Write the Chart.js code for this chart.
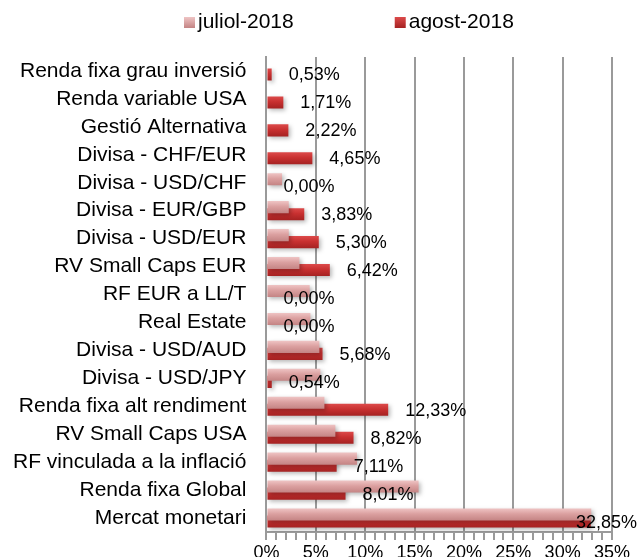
<!DOCTYPE html>
<html>
<head>
<meta charset="utf-8">
<script src="https://cdn.jsdelivr.net/npm/chart.js@4.4.1/dist/chart.umd.min.js"></script>
<style>
  body { margin: 0; background: #fff; }
  #wrap { width: 637px; height: 557px; }
</style>
</head>
<body>
<div id="wrap"><canvas id="fundsChart" width="637" height="557"></canvas></div>
<script>
// Chart data
const categories = [
  "Renda fixa grau inversió",
  "Renda variable USA",
  "Gestió Alternativa",
  "Divisa - CHF/EUR",
  "Divisa - USD/CHF",
  "Divisa - EUR/GBP",
  "Divisa - USD/EUR",
  "RV Small Caps EUR",
  "RF EUR a LL/T",
  "Real Estate",
  "Divisa - USD/AUD",
  "Divisa - USD/JPY",
  "Renda fixa alt rendiment",
  "RV Small Caps USA",
  "RF vinculada a la inflació",
  "Renda fixa Global",
  "Mercat monetari"
];
const seriesNames = ["juliol-2018", "agost-2018"];
const juliol = [0, 0, 0, 0, 1.58, 2.26, 2.26, 3.34, 4.38, 4.45, 5.36, 5.46, 5.87, 6.98, 9.17, 15.41, 32.9];
const agost = [0.53, 1.71, 2.22, 4.65, 0, 3.83, 5.30, 6.42, 0, 0, 5.68, 0.54, 12.33, 8.82, 7.11, 8.01, 32.85];
const xTicks = [0, 5, 10, 15, 20, 25, 30, 35];

const FONT = "'Liberation Sans', Arial, sans-serif";
const GRID = "#9a9a9a";

const julStops = ["#efc4c4", "#dba0a0", "#c48484"];
const agoStops = ["#dc4a4a", "#c83030", "#a52222"];

// vertical gradient over one bar
function barGradient(ctx, stops, shift) {
  const chart = ctx.chart;
  const yScale = chart.scales.y;
  if (!yScale || ctx.dataIndex === undefined) return stops[1];
  const y = yScale.getPixelForValue(ctx.dataIndex);
  const pitch = yScale.height / categories.length;
  if (!isFinite(y) || !isFinite(pitch) || pitch <= 0) return stops[1];
  const slot = pitch * 0.504 / 2;
  const c = y + shift * slot / 2;
  const half = slot * 1.714 / 2;
  const g = chart.ctx.createLinearGradient(0, c - half, 0, c + half);
  g.addColorStop(0, stops[0]);
  g.addColorStop(0.45, stops[1]);
  g.addColorStop(1, stops[2]);
  return g;
}

// soft shadow under the bars
const shadowPlugin = {
  id: "barShadow",
  beforeDatasetsDraw(chart) {
    const c = chart.ctx;
    c.save();
    c.shadowColor = "rgba(0,0,0,0.28)";
    c.shadowBlur = 4;
    c.shadowOffsetX = 2;
    c.shadowOffsetY = 2;
  },
  afterDatasetsDraw(chart) {
    chart.ctx.restore();
  }
};

// agost values next to the bars
const labelPlugin = {
  id: "barLabels",
  afterDatasetsDraw(chart) {
    const c = chart.ctx;
    const meta = chart.getDatasetMeta(1);
    const xScale = chart.scales.x;
    c.save();
    c.font = "18px " + FONT;
    c.fillStyle = "#000";
    c.textBaseline = "middle";
    c.textAlign = "left";
    meta.data.forEach((bar, i) => {
      const text = agost[i].toFixed(2).replace(".", ",") + "%";
      const w = c.measureText(text).width;
      let x = xScale.getPixelForValue(agost[i]) + 17;
      x = Math.min(x, chart.width - w);
      c.fillText(text, x, bar.y + 1);
    });
    c.restore();
  }
};

// legend drawn at the top
const legendPlugin = {
  id: "topLegend",
  afterDraw(chart) {
    const c = chart.ctx;
    c.save();
    c.font = "21px " + FONT;
    c.textBaseline = "middle";
    let x = 184;
    const y = 22.5;
    const stops = [julStops, agoStops];
    seriesNames.forEach((name, i) => {
      const g = c.createLinearGradient(0, y - 5.5, 0, y + 5.5);
      g.addColorStop(0, stops[i][0]);
      g.addColorStop(1, stops[i][2]);
      c.fillStyle = g;
      c.fillRect(x, y - 5.5, 11, 11);
      c.fillStyle = "#000";
      c.fillText(name, x + 14, y);
      x += 14 + c.measureText(name).width + 101;
    });
    c.restore();
  }
};

new Chart(document.getElementById("fundsChart"), {
  type: "bar",
  data: {
    labels: categories,
    datasets: [
      {
        label: seriesNames[0],
        data: juliol,
        backgroundColor: ctx => barGradient(ctx, julStops, -1),
        categoryPercentage: 0.504,
        barPercentage: 1.714
      },
      {
        label: seriesNames[1],
        data: agost,
        backgroundColor: ctx => barGradient(ctx, agoStops, 1),
        categoryPercentage: 0.504,
        barPercentage: 1.714
      }
    ]
  },
  options: {
    indexAxis: "y",
    responsive: false,
    animation: false,
    layout: { padding: { top: 57, left: -7, right: 25, bottom: 0 } },
    plugins: {
      legend: { display: false },
      tooltip: { enabled: false }
    },
    scales: {
      x: {
        min: 0,
        max: 35,
        border: { display: true, color: GRID, width: 2 },
        grid: {
          color: ctx => (ctx.tick && xTicks.includes(ctx.tick.value)) ? GRID : "rgba(0,0,0,0)",
          lineWidth: 2,
          tickColor: GRID,
          tickLength: 8,
          drawTicks: true
        },
        afterFit(scale) {
          // labels sit partly below the canvas edge, as in the original
          scale.height -= 9;
        },
        ticks: {
          stepSize: 1,
          autoSkip: false,
          maxRotation: 0,
          minRotation: 0,
          padding: 4,
          color: "#000",
          font: { family: FONT, size: 18, lineHeight: 1 },
          callback: v => xTicks.includes(v) ? v + "%" : ""
        }
      },
      y: {
        border: { display: true, color: GRID, width: 2 },
        grid: { display: false, drawTicks: false },
        afterFit(scale) {
          scale.paddingTop = 0;
          scale.paddingBottom = 0;
        },
        ticks: {
          autoSkip: false,
          padding: 20,
          color: "#000",
          font: { family: FONT, size: 21 }
        }
      }
    }
  },
  plugins: [shadowPlugin, labelPlugin, legendPlugin]
});
</script>
</body>
</html>
